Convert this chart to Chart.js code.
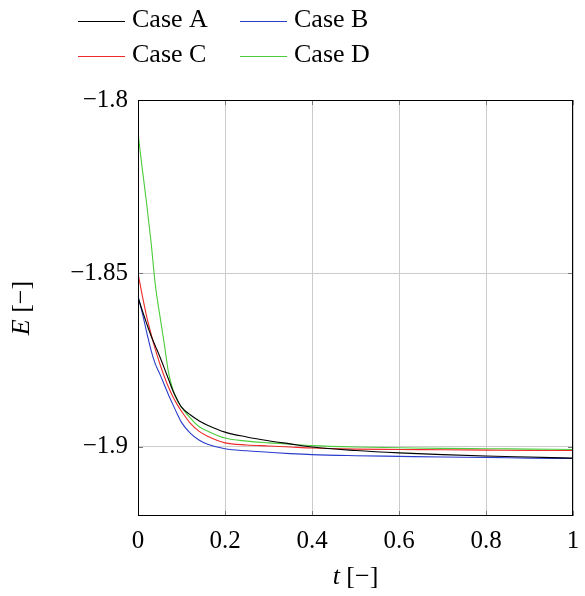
<!DOCTYPE html>
<html>
<head>
<meta charset="utf-8">
<script src="https://cdn.jsdelivr.net/npm/chart.js@4/dist/chart.umd.min.js"></script>
<style>
  body { margin: 0; background: #fff; }
  canvas { display: block; }
</style>
</head>
<body>
<canvas id="energyChart" width="585" height="596"></canvas>
<script>
const seriesLabels = ["Case A", "Case B", "Case C", "Case D"];
const seriesColors = ["#000000", "#2a3ccc", "#ee2a2a", "#4ccc3c"];

const tValues = [0, 0.01, 0.02, 0.03, 0.04, 0.05, 0.06, 0.07, 0.08, 0.09, 0.1,
  0.12, 0.14, 0.16, 0.2, 0.25, 0.3, 0.35, 0.4, 0.5, 0.6, 0.7, 0.8, 0.9, 1.0];

const caseA = [-1.857, -1.8608, -1.8645, -1.868, -1.871, -1.874, -1.8772, -1.8805, -1.8838, -1.8864, -1.8886,
  -1.8908, -1.8925, -1.8938, -1.8958, -1.8972, -1.8983, -1.8992, -1.9001, -1.9011, -1.9018, -1.9023, -1.9027, -1.903, -1.9033];
const caseB = [-1.8565, -1.8615, -1.867, -1.8722, -1.8762, -1.879, -1.882, -1.885, -1.8878, -1.8905, -1.893,
  -1.8961, -1.8981, -1.8993, -1.9006, -1.9012, -1.9016, -1.902, -1.9023, -1.9026, -1.9028, -1.903, -1.9031, -1.9033, -1.9034];
const caseC = [-1.85, -1.8565, -1.8625, -1.8675, -1.872, -1.876, -1.8796, -1.8828, -1.8855, -1.8878, -1.8898,
  -1.8932, -1.8955, -1.897, -1.8989, -1.8995, -1.8998, -1.9001, -1.9004, -1.9007, -1.9008, -1.9009, -1.901, -1.9011, -1.9011];
const caseD = [-1.8095, -1.82, -1.83, -1.841, -1.8535, -1.862, -1.87, -1.8785, -1.8835, -1.8866, -1.8886,
  -1.8917, -1.8942, -1.8955, -1.8975, -1.8984, -1.8989, -1.8993, -1.8997, -1.9001, -1.9003, -1.9005, -1.9006, -1.9007, -1.9008];

const xTicks = [0, 0.2, 0.4, 0.6, 0.8, 1];
const yTicks = [-1.9, -1.85, -1.8];
const xRange = [0, 1];
const yRange = [-1.92, -1.8];

const FONT = "'Liberation Serif', 'Times New Roman', serif";
const FONT_SIZE = 25;

const toPoints = (ys) => ys.map((y, i) => ({ x: tValues[i], y: y }));
const fmt = (v) => String(v).replace("-", "\u2212");

// legend (2 columns), plot frame, inner ticks and axis titles
const decorPlugin = {
  id: "decor",
  afterDraw(chart) {
    const ctx = chart.ctx;
    const area = chart.chartArea;
    const xs = chart.scales.x;
    const ys = chart.scales.y;
    ctx.save();

    // inner tick marks
    ctx.strokeStyle = "#777";
    ctx.lineWidth = 1;
    ctx.beginPath();
    yTicks.forEach((v) => {
      const p = Math.round(ys.getPixelForValue(v)) + 0.5;
      ctx.moveTo(area.left, p); ctx.lineTo(area.left + 5, p);
      ctx.moveTo(area.right, p); ctx.lineTo(area.right - 5, p);
    });
    xTicks.forEach((v) => {
      const p = Math.round(xs.getPixelForValue(v)) + 0.5;
      ctx.moveTo(p, area.bottom); ctx.lineTo(p, area.bottom - 5);
      ctx.moveTo(p, area.top); ctx.lineTo(p, area.top + 5);
    });
    ctx.stroke();

    // frame
    ctx.strokeStyle = "#000";
    ctx.lineWidth = 1;
    ctx.strokeRect(Math.round(area.left) + 0.5, Math.round(area.top) + 0.5,
      Math.round(area.right - area.left) - 1, Math.round(area.bottom - area.top) - 1);

    // legend
    ctx.font = "26px " + FONT;
    ctx.textBaseline = "middle";
    ctx.textAlign = "left";
    const colX = [78, 240];
    const rowY = [20, 55];
    seriesLabels.forEach((label, i) => {
      const cx = colX[i % 2];
      const cy = rowY[Math.floor(i / 2)];
      ctx.strokeStyle = seriesColors[i];
      ctx.lineWidth = 1;
      ctx.beginPath();
      ctx.moveTo(cx, cy + 1.5);
      ctx.lineTo(cx + 47, cy + 1.5);
      ctx.stroke();
      ctx.fillStyle = "#000";
      ctx.fillText(label, cx + 54, cy);
    });

    // axis titles
    const drawTitle = (italic, rest, x, y) => {
      ctx.font = "italic 26px " + FONT;
      const w1 = ctx.measureText(italic).width;
      ctx.font = "26px " + FONT;
      const w2 = ctx.measureText(rest).width;
      const start = x - (w1 + w2) / 2;
      ctx.textAlign = "left";
      ctx.font = "italic 26px " + FONT;
      ctx.fillText(italic, start, y);
      ctx.font = "26px " + FONT;
      ctx.fillText(rest, start + w1, y);
    };
    ctx.fillStyle = "#000";
    drawTitle("t", " [\u2212]", (area.left + area.right) / 2, 577);
    ctx.save();
    ctx.translate(22, (area.top + area.bottom) / 2);
    ctx.rotate(-Math.PI / 2);
    drawTitle("E", " [\u2212]", 0, 0);
    ctx.restore();

    ctx.restore();
  },
};

new Chart(document.getElementById("energyChart"), {
  type: "line",
  data: {
    datasets: [caseA, caseB, caseC, caseD].map((ys, i) => ({
      label: seriesLabels[i],
      data: toPoints(ys),
      borderColor: seriesColors[i],
      backgroundColor: seriesColors[i],
      borderWidth: 1.1,
      pointRadius: 0,
      cubicInterpolationMode: "monotone",
      fill: false,
    })),
  },
  options: {
    responsive: false,
    animation: false,
    layout: { padding: { top: 100, right: 12, left: 0, bottom: 0 } },
    plugins: {
      legend: { display: false },
      tooltip: { enabled: false },
    },
    scales: {
      x: {
        type: "linear",
        min: xRange[0],
        max: xRange[1],
        afterBuildTicks: (scale) => { scale.ticks = xTicks.map((v) => ({ value: v })); },
        afterFit: (scale) => {
          scale.height = 80;
          scale.paddingLeft = 0;
          scale.paddingRight = 0;
        },
        grid: { color: "#cccccc", lineWidth: 1, drawTicks: false },
        border: { display: false },
        ticks: {
          color: "#000",
          padding: 10,
          maxRotation: 0,
          font: { family: FONT, size: FONT_SIZE },
          callback: (v) => fmt(v),
        },
      },
      y: {
        type: "linear",
        min: yRange[0],
        max: yRange[1],
        afterBuildTicks: (scale) => { scale.ticks = yTicks.map((v) => ({ value: v })); },
        afterFit: (scale) => {
          scale.width = 138;
          scale.paddingTop = 0;
          scale.paddingBottom = 0;
        },
        grid: { color: "#cccccc", lineWidth: 1, drawTicks: false },
        border: { display: false },
        ticks: {
          color: "#000",
          padding: 10,
          font: { family: FONT, size: FONT_SIZE },
          callback: (v) => fmt(v),
        },
      },
    },
  },
  plugins: [decorPlugin],
});
</script>
</body>
</html>
